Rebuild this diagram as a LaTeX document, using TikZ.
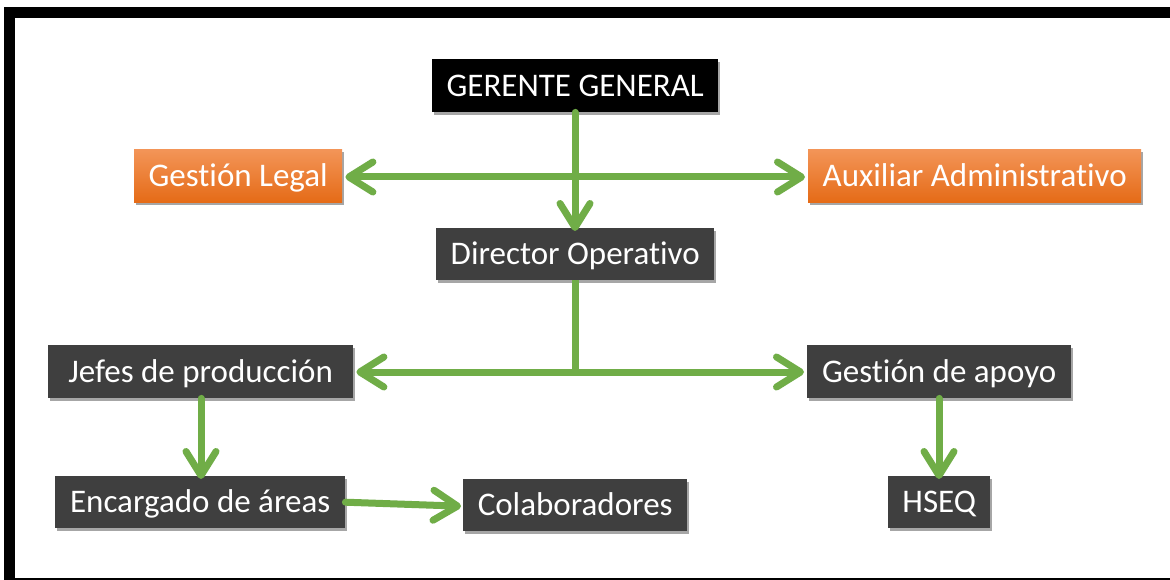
\documentclass[tikz,border=0pt]{standalone}
\usepackage{fontspec}
\setmainfont{Carlito}[Ligatures={NoCommon}]
\usetikzlibrary{arrows.meta,shadows}
\definecolor{boxgray}{HTML}{3F3F3F}
\definecolor{arrgreen}{HTML}{70AD47}
\definecolor{ortop}{HTML}{F39558}
\definecolor{orbot}{HTML}{E56B17}
\tikzset{
  box/.style={draw=none, fill=boxgray, text=white, font=\fontsize{33}{33}\selectfont,
    inner sep=0pt, anchor=north west, text height=21pt, text depth=0pt,
    drop shadow={shadow xshift=2pt, shadow yshift=-3pt, opacity=0.35, fill=black}},
  topbox/.style={box, fill=black},
  orbox/.style={box, fill=none, top color=ortop, bottom color=orbot},
  conn/.style={draw=arrgreen, line width=7pt, line cap=round,
    -{Straight Barb[length=24pt, width=30pt, round]}},
  plain/.style={draw=arrgreen, line width=7pt},
}
\begin{document}
\begin{tikzpicture}[x=1pt,y=-1pt]
\useasboundingbox (0,0) rectangle (1170,580);
\clip (0,0) rectangle (1170,580);
\fill[white] (0,0) rectangle (1170,580);
% frame
\draw[line width=11pt] (9.5,12.5) rectangle (1185,583.5);
% nodes
\node[topbox, minimum width=286pt, minimum height=53pt] (gg) at (432,59) {GERENTE GENERAL};
\node[box, minimum width=278pt, minimum height=52pt] (dir) at (436,228) {Director Operativo};
\node[orbox, minimum width=208pt, minimum height=53pt] (leg) at (134,149) {Gestión Legal};
\node[orbox, minimum width=333pt, minimum height=53pt] (aux) at (808,149) {Auxiliar Administrativo};
\node[box, minimum width=305pt, minimum height=53pt] (jef) at (48,345) {Jefes de producción};
\node[box, minimum width=264pt, minimum height=53pt] (apo) at (807,345) {Gestión de apoyo};
\node[box, minimum width=290pt, minimum height=52pt] (enc) at (55,476) {Encargado de áreas};
\node[box, minimum width=224pt, minimum height=52pt] (col) at (463,479) {Colaboradores};
\node[box, minimum width=102pt, minimum height=52pt] (hse) at (888,476) {HSEQ};
% coordinates
\coordinate (j1) at (575,177);
\coordinate (j2) at (575,372);
% connectors
\draw[conn] (gg.south -| j1) -- ([yshift=-3pt]dir.north -| j1);
\draw[conn] (j1) -- ([xshift=3pt]leg.east |- j1);
\draw[conn] (j1) -- ([xshift=-3pt]aux.west |- j1);
\draw[plain] (dir.south -| j2) -- (j2);
\draw[conn] (j2) -- ([xshift=3pt]jef.east |- j2);
\draw[conn] (j2) -- ([xshift=-3pt]apo.west |- j2);
\draw[conn] ([xshift=153pt]jef.south west) -- ([xshift=153pt,yshift=-3pt]jef.south west |- enc.north);
\draw[conn] ([xshift=132pt]apo.south west) -- ([xshift=132pt,yshift=-3pt]apo.south west |- hse.north);
\draw[conn] (enc.east) -- ([xshift=-2pt,yshift=-1pt]col.west);
\end{tikzpicture}
\end{document}
